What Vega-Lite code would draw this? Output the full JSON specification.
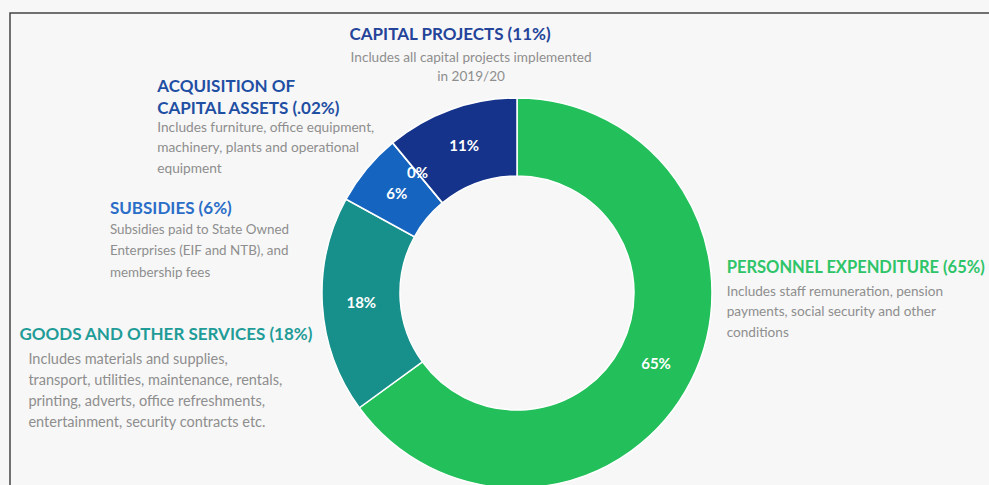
{
  "$schema": "https://vega.github.io/schema/vega-lite/v6.json",
  "autosize": {"type": "none"},
  "padding": {"left": 10, "top": 13, "right": 0, "bottom": 0},
  "width": 1014,
  "height": 560,
  "background": "#f7f7f7",
  "view": {"stroke": "#444444", "strokeWidth": 1.5, "fill": "#f7f7f7"},
  "config": {
    "view": {"stroke": "#444444", "strokeWidth": 1.5, "fill": "#f7f7f7"},
    "text": {"font": "Lato"}
  },
  "data": {
    "values": [
      {"category": "Personnel Expenditure", "rank": 1, "share": 0.65,
       "title": ["PERSONNEL EXPENDITURE (65%)"],
       "desc": ["Includes staff remuneration, pension", "payments, social security and other", "conditions"]},
      {"category": "Goods and Other Services", "rank": 2, "share": 0.18,
       "title": ["GOODS AND OTHER SERVICES (18%)"],
       "desc": ["Includes materials and supplies,", "transport, utilities, maintenance, rentals,", "printing, adverts, office refreshments,", "entertainment, security contracts etc."]},
      {"category": "Subsidies", "rank": 3, "share": 0.06,
       "title": ["SUBSIDIES (6%)"],
       "desc": ["Subsidies paid to State Owned", "Enterprises (EIF and NTB), and", "membership fees"]},
      {"category": "Acquisition of Capital Assets", "rank": 4, "share": 0.0002,
       "title": ["ACQUISITION OF", "CAPITAL ASSETS (.02%)"],
       "desc": ["Includes furniture, office equipment,", "machinery, plants and operational", "equipment"]},
      {"category": "Capital Projects", "rank": 5, "share": 0.11,
       "title": ["CAPITAL PROJECTS (11%)"],
       "desc": ["Includes all capital projects implemented", "in 2019/20"]}
    ]
  },
  "encoding": {
    "theta": {"field": "share", "type": "quantitative", "stack": true},
    "order": {"field": "rank", "type": "quantitative"},
    "detail": {"field": "category", "type": "nominal"}
  },
  "layer": [
    {
      "mark": {"type": "arc", "outerRadius": 195, "innerRadius": 117, "stroke": "#ffffff", "strokeWidth": 1.5},
      "encoding": {
        "color": {
          "field": "category", "type": "nominal", "legend": null,
          "scale": {
            "domain": ["Personnel Expenditure", "Goods and Other Services", "Subsidies", "Acquisition of Capital Assets", "Capital Projects"],
            "range": ["#22bf5a", "#178f8b", "#1565c0", "#1a4ea8", "#15338a"]
          }
        }
      }
    },
    {
      "mark": {"type": "text", "radius": 156, "fill": "#ffffff", "fontWeight": "bold", "fontSize": 15, "baseline": "middle", "align": "center"},
      "encoding": {"text": {"field": "share", "type": "quantitative", "format": ".0%"}}
    },
    {
      "mark": {"type": "text", "radius": 205, "align": "left", "baseline": "alphabetic", "dx": 27, "dy": -113, "fontSize": 16.5, "fontWeight": "bold", "fill": "#2ec468"},
      "encoding": {"text": {"condition": {"test": "datum.category === 'Personnel Expenditure'", "field": "title"}, "value": ""}}
    },
    {
      "mark": {"type": "text", "radius": 205, "align": "left", "baseline": "alphabetic", "dx": 27, "dy": -90, "fontSize": 13.6, "lineHeight": 20.5, "fill": "#8e8e8e"},
      "encoding": {"text": {"condition": {"test": "datum.category === 'Personnel Expenditure'", "field": "desc"}, "value": ""}}
    },
    {
      "mark": {"type": "text", "radius": 205, "align": "right", "baseline": "alphabetic", "dx": 0, "dy": 34, "fontSize": 17, "fontWeight": "bold", "fill": "#1f9c98"},
      "encoding": {"text": {"condition": {"test": "datum.category === 'Goods and Other Services'", "field": "title"}, "value": ""}}
    },
    {
      "mark": {"type": "text", "radius": 205, "align": "left", "baseline": "alphabetic", "dx": -284, "dy": 57.5, "fontSize": 14.5, "lineHeight": 21, "fill": "#8e8e8e"},
      "encoding": {"text": {"condition": {"test": "datum.category === 'Goods and Other Services'", "field": "desc"}, "value": ""}}
    },
    {
      "mark": {"type": "text", "radius": 205, "align": "left", "baseline": "alphabetic", "dx": -249, "dy": 51.5, "fontSize": 17, "fontWeight": "bold", "fill": "#2b6ec8"},
      "encoding": {"text": {"condition": {"test": "datum.category === 'Subsidies'", "field": "title"}, "value": ""}}
    },
    {
      "mark": {"type": "text", "radius": 205, "align": "left", "baseline": "alphabetic", "dx": -249, "dy": 71.5, "fontSize": 13.4, "lineHeight": 21.5, "fill": "#8e8e8e"},
      "encoding": {"text": {"condition": {"test": "datum.category === 'Subsidies'", "field": "desc"}, "value": ""}}
    },
    {
      "mark": {"type": "text", "radius": 205, "align": "left", "baseline": "alphabetic", "dx": -229, "dy": -43, "fontSize": 17, "fontWeight": "bold", "lineHeight": 21.5, "fill": "#1f4fa3"},
      "encoding": {"text": {"condition": {"test": "datum.category === 'Acquisition of Capital Assets'", "field": "title"}, "value": ""}}
    },
    {
      "mark": {"type": "text", "radius": 205, "align": "left", "baseline": "alphabetic", "dx": -229, "dy": -3.5, "fontSize": 13.7, "lineHeight": 20.5, "fill": "#8e8e8e"},
      "encoding": {"text": {"condition": {"test": "datum.category === 'Acquisition of Capital Assets'", "field": "desc"}, "value": ""}}
    },
    {
      "mark": {"type": "text", "radius": 205, "align": "center", "baseline": "alphabetic", "dx": 2.5, "dy": -60, "fontSize": 17, "fontWeight": "bold", "fill": "#24449a"},
      "encoding": {"text": {"condition": {"test": "datum.category === 'Capital Projects'", "field": "title"}, "value": ""}}
    },
    {
      "mark": {"type": "text", "radius": 205, "align": "center", "baseline": "alphabetic", "dx": 23.5, "dy": -38.5, "fontSize": 13.6, "lineHeight": 19, "fill": "#8e8e8e"},
      "encoding": {"text": {"condition": {"test": "datum.category === 'Capital Projects'", "field": "desc"}, "value": ""}}
    }
  ]
}
